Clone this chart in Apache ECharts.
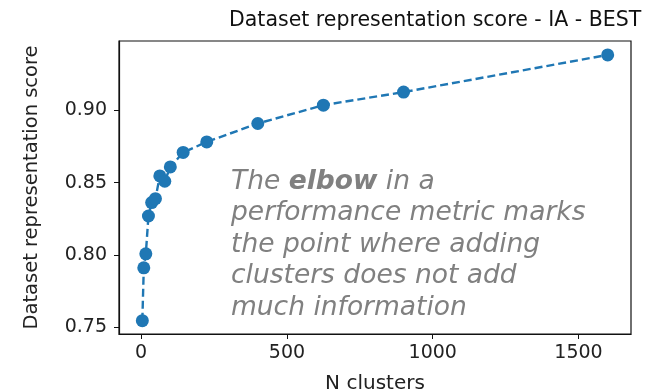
<!DOCTYPE html>
<html>
<head>
<meta charset="utf-8">
<script src="https://cdn.jsdelivr.net/npm/echarts@6/dist/echarts.min.js"></script>
<style>html,body{margin:0;padding:0;background:#fff}#c{width:654px;height:392px}</style>
</head>
<body>
<div id="c"></div>
<script>
const nClusters = [4, 9, 16, 25, 36, 49, 64, 81, 100, 144, 225, 400, 625, 900, 1600];
const scores = [0.7546, 0.7911, 0.8008, 0.8269, 0.8362, 0.8389, 0.8546, 0.8509, 0.8608, 0.8708, 0.8781, 0.8908, 0.9035, 0.9125, 0.9382];
const xTicks = [0, 500, 1000, 1500];
const yTicks = [0.75, 0.80, 0.85, 0.90];

const chart = echarts.init(document.getElementById('c'));
const font = 'DejaVu Sans';
chart.setOption({
  animation: false,
  title: {
    text: 'Dataset representation score - IA - BEST',
    left: 224, top: 5,
    textStyle: {fontFamily: font, fontSize: 20.5, fontWeight: 'normal', color: '#111'}
  },
  grid: {left: 119, right: 23, top: 41, bottom: 58, show: true, borderColor: '#111', borderWidth: 1.2,
    containLabel: false, outerBoundsMode: 'none'},
  xAxis: {
    type: 'value', min: -76, max: 1680,
    name: 'N clusters', nameLocation: 'middle', nameGap: 40,
    nameTextStyle: {fontFamily: font, fontSize: 20, color: '#222'},
    axisLine: {show: true, onZero: false, lineStyle: {color: '#111', width: 1.2}},
    axisTick: {show: true, inside: false, length: 5, lineStyle: {color: '#111'}, customValues: xTicks},
    axisLabel: {fontFamily: font, fontSize: 19, color: '#222', margin: 10, customValues: xTicks,
      formatter: v => String(v)},
    splitLine: {show: false}
  },
  yAxis: {
    type: 'value', min: 0.7454, max: 0.9478,
    name: 'Dataset representation score', nameLocation: 'middle', nameGap: 77,
    nameTextStyle: {fontFamily: font, fontSize: 19.5, color: '#222'},
    axisLine: {show: true, onZero: false, lineStyle: {color: '#111', width: 1.2}},
    axisTick: {show: true, inside: false, length: 5, lineStyle: {color: '#111'}, customValues: yTicks},
    axisLabel: {fontFamily: font, fontSize: 19, color: '#222', margin: 12, customValues: yTicks,
      formatter: v => v.toFixed(2)},
    splitLine: {show: false}
  },
  series: [{
    type: 'line',
    data: nClusters.map((x, i) => [x, scores[i]]),
    symbol: 'circle', symbolSize: 13,
    itemStyle: {color: '#1f77b4'},
    lineStyle: {color: '#1f77b4', width: 2.4, type: [8, 4]}
  }],
  graphic: [{
    type: 'text', left: 231, top: 166,
    style: {
      text: 'The {b|elbow} in a\nperformance metric marks\nthe point where adding\nclusters does not add\nmuch information',
      fontFamily: font, fontSize: 26.5, fontStyle: 'italic', fill: '#808080', lineHeight: 31.5,
      rich: {b: {fontFamily: font, fontSize: 26.5, fontStyle: 'italic', fontWeight: 'bold', fill: '#808080', lineHeight: 31.5}}
    }
  }]
});
</script>
</body>
</html>
